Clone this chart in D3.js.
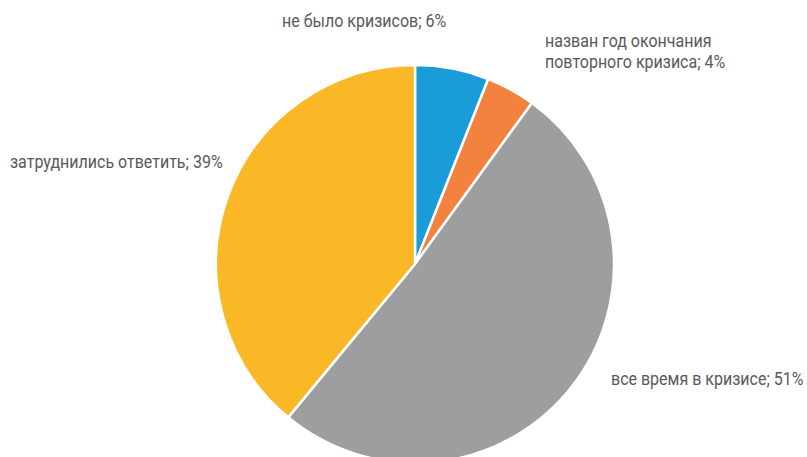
<html>
<head>
<script src="https://d3js.org/d3.v7.min.js" charset="utf-8"></script>
<style>
body { margin: 0; background: #fff; }
.lbl { font-family: "Roboto", sans-serif; font-size: 18px; fill: #595959; }
</style>
</head>
<body>
<div id="canvas"></div>
<script>
// slices go clockwise from 12 o'clock
var categories = ["не было кризисов", "назван год окончания повторного кризиса", "все время в кризисе", "затруднились ответить"];
var values = [6, 4, 51, 39];
var colors = ["#1a9cd8", "#f4823f", "#9d9ea0", "#fbb826"];
// label lines and where they sit
var labelLines = [["не было кризисов; 6%"], ["назван год окончания", "повторного кризиса; 4%"], ["все время в кризисе; 51%"], ["затруднились ответить; 39%"]];
var labelPos = [[282, 27], [545, 47], [611, 385], [10, 168]];

var width = 807, height = 457;
var cx = 415, cy = 264, r = 199;
var squeeze = 0.89; // text in the original is a condensed face

var svg = d3.select("#canvas").append("svg").attr("width", width).attr("height", height);

var pie = d3.pie().sort(null).value(function(d){ return d; });
var arc = d3.arc().innerRadius(0).outerRadius(r);

var g = svg.append("g").attr("transform", "translate(" + cx + "," + cy + ")");
g.selectAll("path")
	.data(pie(values))
	.enter().append("path")
	.attr("d", arc)
	.attr("fill", function(d, i){ return colors[i]; })
	.attr("stroke", "#fff")
	.attr("stroke-width", 2.5)
	.attr("stroke-linejoin", "round");

labelLines.forEach(function(lines, i){
	var t = svg.append("text").attr("class", "lbl")
		.attr("transform", "translate(" + labelPos[i][0] + "," + labelPos[i][1] + ") scale(" + squeeze + ",1)");
	lines.forEach(function(s, j){
		t.append("tspan").attr("x", 0).attr("dy", j === 0 ? 0 : 21).text(s);
	});
});
</script>
</body>
</html>
